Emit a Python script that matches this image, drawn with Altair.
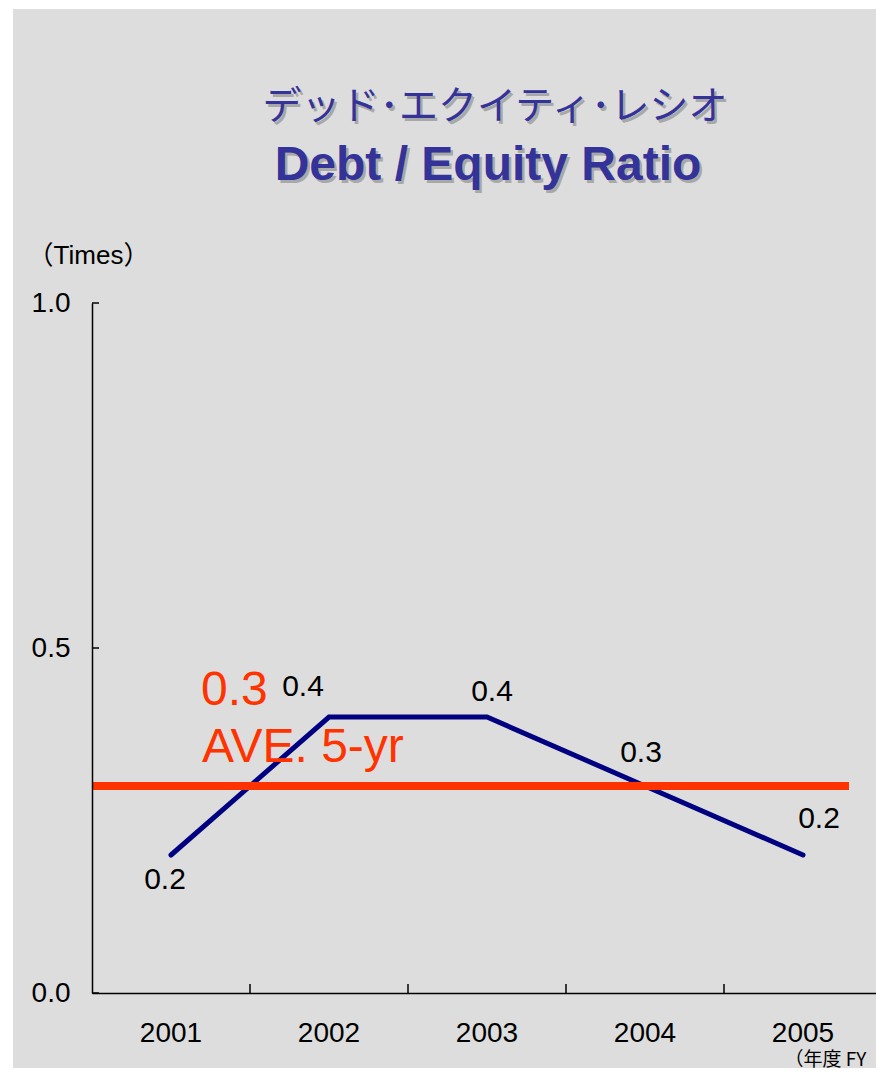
import altair as alt
import pandas as pd

# ---- data ----
years = ["2001", "2002", "2003", "2004", "2005"]
ratios = [0.2, 0.4, 0.4, 0.3, 0.2]
y_tick_values = [0.0, 0.5, 1.0]
title_jp = "デッド･エクイティ･レシオ"
title_en = "Debt / Equity Ratio"
avg_value_text = "0.3"
avg_caption = "AVE. 5-yr"
y_unit = "（Times）"
x_unit = "（年度 FY"

# ---- styles ----
NAVY = "#000080"
RED = "#FF3300"
TITLE_COLOR = "#333399"
SHADOW = "#A8A8A8"
BG = "#DDDDDD"
FONT = "Liberation Sans, Arial, Noto Sans CJK JP"
CJK = "Noto Sans CJK JP, Liberation Sans"

# label offsets (dx, dy) per year, as placed in the original
label_offsets = {
    "2001": (-6, 25),
    "2002": (-26, -30),
    "2003": (5, -25),
    "2004": (-4, -33),
    "2005": (16, -36),
}

df = pd.DataFrame({"year": years, "ratio": ratios})
ytick_df = pd.DataFrame({"ratio": y_tick_values})

x_scale = alt.Scale(type="band", domain=years, paddingInner=0, paddingOuter=0, range=[0, 790])
y_scale = alt.Scale(domain=[0, 1], nice=False, zero=True)

x_axis = alt.Axis(
    title=x_unit, ticks=False, tickSize=0, labelAngle=0, labelPadding=26,
    labelFontSize=28, labelFont=FONT, labelColor="black",
    domainColor="black", domainWidth=1.5, zindex=1,
    titleFont=CJK, titleFontSize=19, titleFontWeight="normal", titleColor="black",
    titleX=692, titleY=66, titleAlign="left", titleBaseline="middle",
)
y_axis = alt.Axis(
    values=y_tick_values, format=".1f", ticks=False, tickSize=0, labelPadding=22,
    labelFontSize=28, labelFont=FONT, labelColor="black", grid=False,
    domainColor="black", domainWidth=1.5, zindex=1,
    title=y_unit, titleAngle=0, titleX=-4, titleY=-48, titleAlign="center",
    titleBaseline="middle", titleFont=FONT, titleFontSize=26,
    titleFontWeight="normal", titleColor="black",
)

X = alt.X("year:N", scale=x_scale, sort=years, bandPosition=0.5, axis=x_axis)
Y = alt.Y("ratio:Q", scale=y_scale, axis=y_axis)

base = alt.Chart(df)

# grey panel behind everything (starts a few px inside the page, as in the original)
panel = alt.Chart(pd.DataFrame({"p": [0]})).mark_rect(color=BG, opacity=1).encode(
    x=alt.value(-79), x2=alt.value(800), y=alt.value(-294), y2=alt.value(780)
)

line = base.mark_line(color=NAVY, strokeWidth=5, strokeCap="round", strokeJoin="miter").encode(x=X, y=Y)

avg_rule = base.transform_aggregate(ratio="mean(ratio)").mark_rule(
    color=RED, strokeWidth=8, strokeCap="butt", opacity=1
).encode(y=Y, x=alt.value(1), x2=alt.value(757))

label_layers = []
for yr, (dx, dy) in label_offsets.items():
    label_layers.append(
        base.transform_filter(alt.datum.year == yr).mark_text(
            dx=dx, dy=dy, fontSize=30, font=FONT, color="black",
            align="center", baseline="middle",
        ).encode(x=X, y=Y, text=alt.Text("ratio:Q", format=".1f"))
    )

x_ticks = base.mark_tick(
    orient="vertical", size=9, thickness=1.5, color="black", opacity=1, yOffset=-4.5
).encode(
    x=alt.X("year:N", scale=x_scale, sort=years, bandPosition=1, axis=x_axis),
    y=alt.datum(0),
)
y_ticks = alt.Chart(ytick_df).mark_tick(
    orient="horizontal", size=7, thickness=1.5, color="black", opacity=1, xOffset=3.5
).encode(y=Y, x=alt.value(0))


def text_layer(txt, x, y, **kw):
    return alt.Chart(pd.DataFrame({"t": [txt]})).mark_text(**kw).encode(
        text="t:N", x=alt.value(x), y=alt.value(y)
    )


titles = [
    text_layer(title_jp, 405.5, -193.5, font=CJK, fontSize=39, color=SHADOW, align="center", baseline="middle"),
    text_layer(title_jp, 403, -196, font=CJK, fontSize=39, color=TITLE_COLOR, align="center", baseline="middle"),
    text_layer(title_en, 398.5, -120.5, font=FONT, fontSize=48, fontWeight="bold", color=SHADOW, align="center", baseline="alphabetic"),
    text_layer(title_en, 396, -123, font=FONT, fontSize=48, fontWeight="bold", color=TITLE_COLOR, align="center", baseline="alphabetic"),
]

annotations = [
    text_layer(avg_value_text, 109, 402, font=FONT, fontSize=48, color=RED, align="left", baseline="alphabetic"),
    text_layer(avg_caption, 110, 459, font=FONT, fontSize=48, color=RED, align="left", baseline="alphabetic"),
]

chart = alt.layer(
    panel, line, avg_rule, x_ticks, y_ticks, *label_layers, *annotations, *titles
).properties(
    width=782,
    height=690,
    padding={"left": 84, "top": 295, "right": 2, "bottom": 75},
    autosize=alt.AutoSizeParams(type="none"),
    background="white",
).configure_view(stroke=None)

chart.save("out.html", embed_options={"renderer": "svg", "actions": False})
